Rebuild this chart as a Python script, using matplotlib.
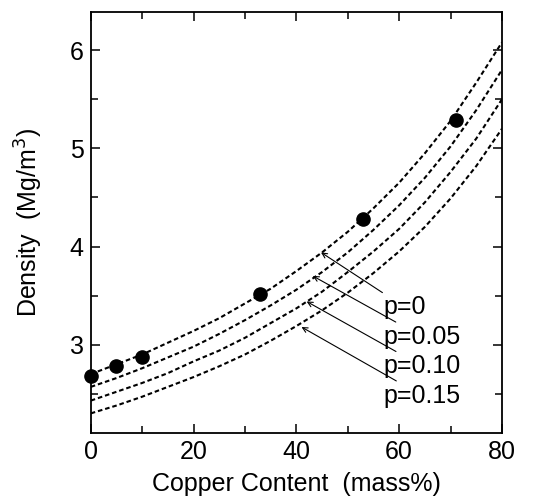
import numpy as np
import matplotlib.pyplot as plt
from matplotlib.ticker import MultipleLocator

plt.rcParams['font.family'] = ['Liberation Sans', 'DejaVu Sans']

# measured densities
cu_meas = [0, 5, 10, 33, 53, 71]
rho_meas = [2.68, 2.78, 2.87, 3.52, 4.28, 5.29]

# calculated curves
cu_curve = [0, 5, 10, 15, 20, 25, 30, 35, 40, 45, 50, 55, 60, 65, 70, 75, 80]
rho_p000 = [2.70, 2.80, 2.90, 3.02, 3.14, 3.27, 3.42, 3.57, 3.75, 3.94, 4.15,
            4.39, 4.65, 4.95, 5.28, 5.67, 6.08]
rho_p005 = [2.57, 2.66, 2.76, 2.87, 2.98, 3.11, 3.25, 3.40, 3.56, 3.74, 3.94,
            4.17, 4.42, 4.70, 5.02, 5.39, 5.80]
rho_p010 = [2.43, 2.52, 2.61, 2.71, 2.83, 2.94, 3.07, 3.22, 3.37, 3.54, 3.74,
            3.95, 4.18, 4.45, 4.76, 5.10, 5.50]
rho_p015 = [2.30, 2.38, 2.47, 2.57, 2.67, 2.78, 2.90, 3.04, 3.19, 3.35, 3.53,
            3.73, 3.95, 4.20, 4.49, 4.82, 5.20]

labels = ["p=0", "p=0.05", "p=0.10", "p=0.15"]
heads = [(44.8, 3.94), (43.2, 3.70), (42.0, 3.44), (41.0, 3.18)]
label_y = [3.38, 3.08, 2.78, 2.48]

fig = plt.figure(figsize=(5.34, 4.98), dpi=100)
ax = fig.add_axes([0.170, 0.1305, 0.770, 0.8455])

for rho in [rho_p000, rho_p005, rho_p010, rho_p015]:
    ax.plot(cu_curve, rho, color='black', lw=1.5, linestyle=(0, (2.2, 1.4)))

ax.plot(cu_meas, rho_meas, 'o', color='black', markersize=9.5, clip_on=False, zorder=5)

for lab, (hx, hy), ly in zip(labels, heads, label_y):
    ax.annotate(lab, xy=(hx, hy), xytext=(57.0, ly), fontsize=18,
                va='center', ha='left',
                arrowprops=dict(arrowstyle='->', color='black', lw=0.8,
                                shrinkA=0, shrinkB=0, mutation_scale=9))

ax.set_xlim(0, 80)
ax.set_ylim(2.10, 6.39)
ax.xaxis.set_major_locator(MultipleLocator(20))
ax.xaxis.set_minor_locator(MultipleLocator(10))
ax.yaxis.set_major_locator(MultipleLocator(1))
ax.yaxis.set_minor_locator(MultipleLocator(0.5))
ax.tick_params(which='both', direction='in', top=True, right=True,
               width=1.1, labelsize=18)
ax.tick_params(which='major', length=6.5, pad=5)
ax.tick_params(which='minor', length=5)
for s in ax.spines.values():
    s.set_linewidth(1.3)

ax.set_xlabel("Copper Content  (mass%)", fontsize=18, labelpad=6)
ax.set_ylabel("Density  (Mg/m$^3$)", fontsize=18, labelpad=18)

fig.savefig("out.png", dpi=100)
